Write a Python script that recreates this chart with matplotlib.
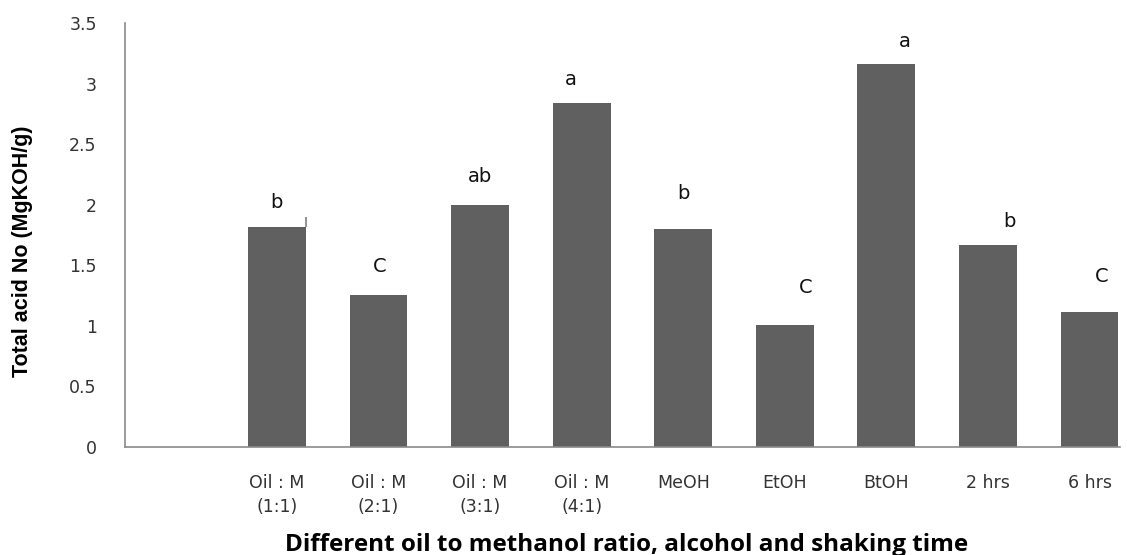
import matplotlib.pyplot as plt

plt.rcParams['font.family'] = 'DejaVu Sans'

categories = ['', 'Oil : M\n(1:1)', 'Oil : M\n(2:1)', 'Oil : M\n(3:1)', 'Oil : M\n(4:1)',
              'MeOH', 'EtOH', 'BtOH', '2 hrs', '6 hrs']
values = [0, 1.82, 1.25, 2.00, 2.84, 1.80, 1.01, 3.16, 1.67, 1.11]
letters = ['', 'b', 'C', 'ab', 'a', 'b', 'C', 'a', 'b', 'C']
err_top = 1.90  # stray error line on the first bar

# label nudges (category units, pixels above bar)
dx = [0, 0.0, 0.01, 0.0, -0.11, 0.0, 0.21, 0.18, 0.21, 0.12]
dy = [0, 15, 19, 19, 14, 26, 28, 13, 14, 26]

W, H = 1127, 555
fig = plt.figure(figsize=(W / 100, H / 100), dpi=100)
ax = fig.add_axes([124.5 / W, 1 - 446.7 / H, (1120 - 124.5) / W, (446.7 - 23.3) / H])

x = list(range(len(categories)))
ax.bar(x, values, width=0.57, color='#606060')
ax.vlines(1 + 0.285, values[1], err_top, color='#7f7f7f', lw=1.2)

for i, (v, lab) in enumerate(zip(values, letters)):
    if lab:
        ax.annotate(lab, (i + dx[i], v), xytext=(0, dy[i] * 0.72), textcoords='offset points',
                    ha='center', va='bottom', fontsize=14, color='#111111')

ax.set_xlim(-0.5, 9.3)
ax.set_ylim(0, 3.5)
ax.set_yticks([0, 0.5, 1, 1.5, 2, 2.5, 3, 3.5], labels=['0', '0.5', '1', '1.5', '2', '2.5', '3', '3.5'])
ax.set_xticks(x, labels=categories)
ax.tick_params(axis='both', length=0, labelsize=12.5, labelcolor='#333333')
ax.tick_params(axis='y', pad=20)
ax.tick_params(axis='x', pad=20)
for lab in ax.get_xticklabels():
    lab.set_linespacing(1.4)

for s in ['top', 'right']:
    ax.spines[s].set_visible(False)
for s in ['left', 'bottom']:
    ax.spines[s].set_color('#8a8a8a')
    ax.spines[s].set_linewidth(1.2)

fig.text(23 / W, 1 - 251 / H, 'Total acid No (MgKOH/g)', rotation=90, ha='center', va='center',
         fontsize=15.5, fontweight='bold', family='Liberation Sans')
fig.text(627 / W, 1 - 545 / H, 'Different oil to methanol ratio, alcohol and shaking time',
         ha='center', va='center', fontsize=17.5, fontweight='bold', family='Open Sans')

fig.savefig('out.png', dpi=100)
